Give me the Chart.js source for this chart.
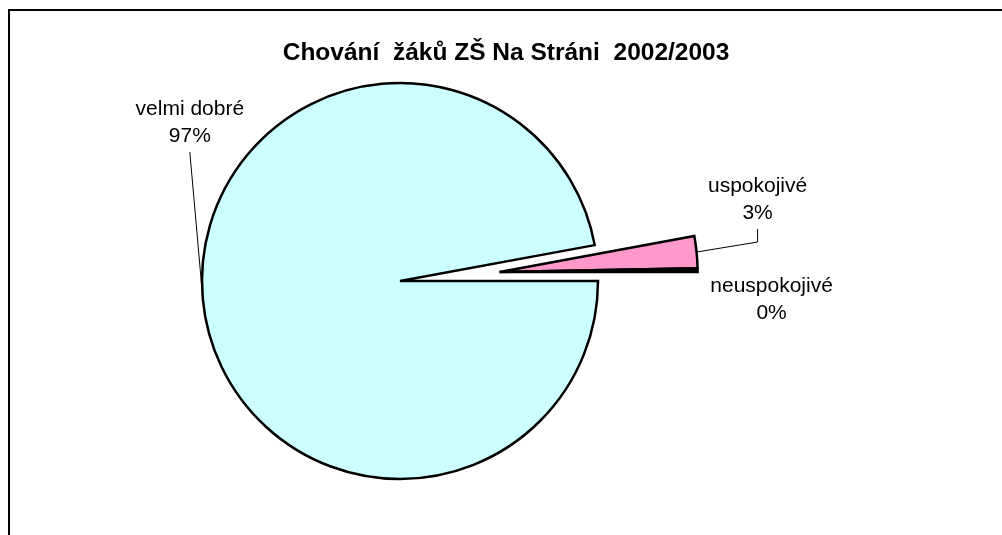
<!DOCTYPE html>
<html>
<head>
<meta charset="utf-8">
<script src="https://cdn.jsdelivr.net/npm/chart.js@4.4.1/dist/chart.umd.min.js"></script>
<style>
  body { margin: 0; background: #fff; }
</style>
</head>
<body>
<canvas id="myChart" width="1002" height="535"></canvas>
<script>

var title = 'Chování  žáků ZŠ Na Stráni  2002/2003';
var categories = ['velmi dobré', 'uspokojivé', 'neuspokojivé'];
var values = [97.1, 2.6, 0.3];
var colors = ['#CCFFFF', '#FF99CC', '#000000'];

// how far each slice is pulled out of the pie (px)
var explode = [0, 100, 100];
// label anchor (bottom centre of the text) relative to the slice edge point
var labelOffsets = [[-13, -147], [61, -23], [74, 59]];
// leader line: null = none, 0 = straight, n = vertical piece of n px
var leaders = [0, 13, null];

var FONT = 'Arial, "Liberation Sans", sans-serif';

var pieExtras = {
    id: 'pieExtras',
    beforeDraw: function (chart) {
        var ctx = chart.ctx;
        ctx.save();
        ctx.strokeStyle = '#000';
        ctx.lineWidth = 2;
        ctx.beginPath();
        ctx.moveTo(9, chart.height);
        ctx.lineTo(9, 10);
        ctx.lineTo(chart.width, 10);
        ctx.stroke();
        ctx.restore();
    },
    beforeDatasetDraw: function () {
        // slices are drawn below so they can be exploded
        return false;
    },
    afterDatasetsDraw: function (chart) {
        var ctx = chart.ctx;
        var arcs = chart.getDatasetMeta(0).data;
        var shift = explodeShift(arcs);
        arcs.forEach(function (arc, i) {
            ctx.save();
            if (explode[i] > 0) ctx.translate(shift.x, shift.y);
            arc.draw(ctx);
            ctx.restore();
        });
    },
    afterDraw: function (chart) {
        var ctx = chart.ctx;
        var arcs = chart.getDatasetMeta(0).data;
        var shift = explodeShift(arcs);
        var total = values.reduce(function (a, b) { return a + b; }, 0);

        ctx.save();
        ctx.fillStyle = '#000';
        ctx.textAlign = 'center';
        ctx.textBaseline = 'alphabetic';
        ctx.font = 'bold 24.5px ' + FONT;
        ctx.fillText(title, 506, 60);

        ctx.font = '21px ' + FONT;
        ctx.strokeStyle = '#000';
        ctx.lineWidth = 1;
        arcs.forEach(function (arc, i) {
            var p = arc.getProps(['x', 'y', 'startAngle', 'endAngle', 'outerRadius'], true);
            var mid = (p.startAngle + p.endAngle) / 2;
            var sx = explode[i] > 0 ? shift.x : 0;
            var sy = explode[i] > 0 ? shift.y : 0;
            var ex = p.x + sx + Math.cos(mid) * p.outerRadius;
            var ey = p.y + sy + Math.sin(mid) * p.outerRadius;
            var ax = ex + labelOffsets[i][0];
            var ay = ey + labelOffsets[i][1];

            if (leaders[i] !== null) {
                ctx.beginPath();
                ctx.moveTo(ex, ey);
                if (leaders[i] > 0) ctx.lineTo(ax, ay + leaders[i]);
                ctx.lineTo(ax, ay);
                ctx.stroke();
            }
            var pct = Math.round(values[i] / total * 100) + '%';
            ctx.fillText(categories[i], ax, ay - 37);
            ctx.fillText(pct, ax, ay - 10);
        });
        ctx.restore();
    }
};

// exploded slices move together along the middle of their joint span
function explodeShift(arcs) {
    var start = null, end = null, dist = 0;
    arcs.forEach(function (arc, i) {
        if (explode[i] > 0) {
            if (start === null || arc.startAngle < start) start = arc.startAngle;
            if (end === null || arc.endAngle > end) end = arc.endAngle;
            dist = Math.max(dist, explode[i]);
        }
    });
    if (start === null) return { x: 0, y: 0 };
    var mid = (start + end) / 2;
    return { x: Math.cos(mid) * dist, y: Math.sin(mid) * dist };
}

var ctx = document.getElementById('myChart').getContext('2d');
var myChart = new Chart(ctx, {
    type: 'pie',
    data: {
        labels: categories,
        datasets: [{
            data: values,
            backgroundColor: colors,
            borderColor: '#000000',
            borderWidth: 2.5,
            borderJoinStyle: 'miter'
        }]
    },
    options: {
        responsive: false,
        animation: false,
        events: [],
        rotation: 90,
        radius: 198,
        layout: {
            padding: { left: 0, right: 202, top: 27, bottom: 0 }
        },
        plugins: {
            legend: { display: false },
            tooltip: { enabled: false },
            title: { display: false }
        }
    },
    plugins: [pieExtras]
});

</script>
</body>
</html>
